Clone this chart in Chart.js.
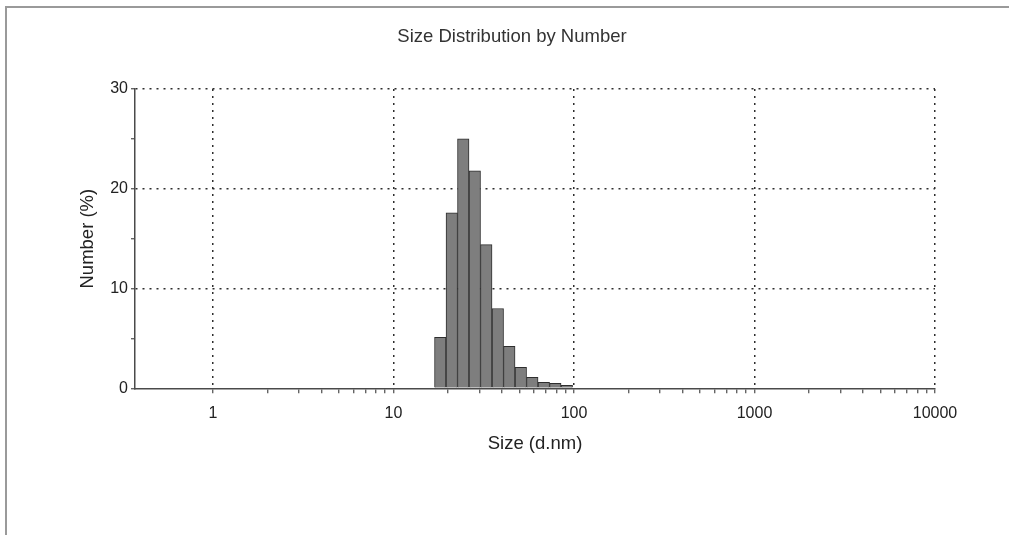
<!DOCTYPE html>
<html>
<head>
<meta charset="utf-8">
<script src="https://cdn.jsdelivr.net/npm/chart.js@4/dist/chart.umd.min.js"></script>
<style>
  html, body { margin: 0; padding: 0; background: #fff; }
  #wrap { position: relative; width: 1009px; height: 535px; overflow: hidden; }
  #frame {
    position: absolute; left: 5px; top: 6px; width: 1100px; height: 600px;
    border-left: 2px solid #9a9a9a; border-top: 2px solid #9a9a9a;
  }
  #chart { position: absolute; left: 0; top: 0; }
</style>
</head>
<body>
<div id="wrap">
  <div id="frame"></div>
  <canvas id="chart" width="1009" height="535"></canvas>
</div>
<script>
// size classes (d.nm) that carry a non-zero share
const sizes = [18.17, 21.04, 24.36, 28.21, 32.67, 37.84, 43.82, 50.75, 58.77, 68.06, 78.82, 91.28];
// number distribution (%)
const numberPct = [5.1, 17.6, 25.0, 21.8, 14.4, 8.0, 4.2, 2.1, 1.1, 0.6, 0.5, 0.3];

const xMajorTicks = [1, 10, 100, 1000, 10000];
const yTicks = [0, 10, 20, 30];

const titleText = 'Size Distribution by Number';
const xTitle = 'Size (d.nm)';
const yTitle = 'Number (%)';

// minor marks 2..9 inside each decade
const xAllTicks = [];
xMajorTicks.forEach((d, i) => {
  xAllTicks.push(d);
  if (i < xMajorTicks.length - 1) {
    for (let m = 2; m <= 9; m++) xAllTicks.push(m * d);
  }
});
const majorSet = new Set(xMajorTicks);

Chart.defaults.font.family = "'Liberation Sans', Arial, sans-serif";
Chart.defaults.color = '#222';

const dotColor = '#2e2e2e';
const axisColor = '#4a4a4a';

new Chart(document.getElementById('chart'), {
  type: 'bar',
  data: {
    datasets: [{
      data: sizes.map((s, i) => ({ x: s, y: numberPct[i] })),
      backgroundColor: '#7e7e7e',
      borderColor: '#2e2e2e',
      borderWidth: 1,
      barThickness: 'flex',
      barPercentage: 1,
      categoryPercentage: 1
    }]
  },
  options: {
    responsive: false,
    animation: false,
    layout: { padding: { left: 15, right: 0, top: 10, bottom: 80 } },
    plugins: {
      legend: { display: false },
      tooltip: { enabled: false },
      title: {
        display: true,
        text: titleText,
        color: '#333',
        font: { size: 18.5, weight: 'normal' },
        padding: { top: 15.9, bottom: 40.9 }
      }
    },
    scales: {
      x: {
        type: 'logarithmic',
        min: 0.37,
        max: 10000,
        offset: false,
        afterBuildTicks: (scale) => {
          scale.ticks = xAllTicks.map(v => ({ value: v, major: majorSet.has(v) }));
        },
        ticks: {
          autoSkip: false,
          maxRotation: 0,
          padding: 11,
          color: '#222',
          font: { size: 16 },
          callback: (v) => majorSet.has(v) ? String(v) : ''
        },
        grid: {
          offset: false,
          color: (ctx) => (ctx.tick && majorSet.has(ctx.tick.value)) ? dotColor : 'rgba(0,0,0,0)',
          lineWidth: 1.5,
          tickColor: axisColor,
          tickLength: 5,
          tickWidth: 1.2
        },
        border: { display: true, color: axisColor, width: 1.5, dash: [2, 5] },
        title: {
          display: true,
          text: xTitle,
          color: '#222',
          font: { size: 18.5, lineHeight: 1 },
          padding: { top: 0, bottom: 2 }
        }
      },
      y: {
        min: 0,
        max: 30,
        afterFit: (scale) => { scale.width = 120; },
        ticks: {
          stepSize: 5,
          padding: 3,
          color: '#222',
          font: { size: 16 },
          callback: (v) => yTicks.includes(v) ? String(v) : ''
        },
        grid: {
          color: (ctx) => (ctx.tick && ctx.tick.value > 0 && ctx.tick.value % 10 === 0) ? dotColor : 'rgba(0,0,0,0)',
          lineWidth: 1.5,
          tickColor: axisColor,
          tickLength: 4,
          tickWidth: 1.2
        },
        border: { display: true, color: axisColor, width: 1.5, dash: [2, 5] },
        title: {
          display: true,
          text: yTitle,
          color: '#222',
          font: { size: 18.5 },
          padding: { top: 61.9, bottom: 0 }
        }
      },
      // empty right-hand spacer so the plot ends where the reference does
      spacer: {
        type: 'linear',
        position: 'right',
        display: true,
        afterFit: (scale) => { scale.width = 74; },
        ticks: { display: false },
        grid: { display: false, drawOnChartArea: false },
        border: { display: false }
      }
    }
  }
});
</script>
</body>
</html>
